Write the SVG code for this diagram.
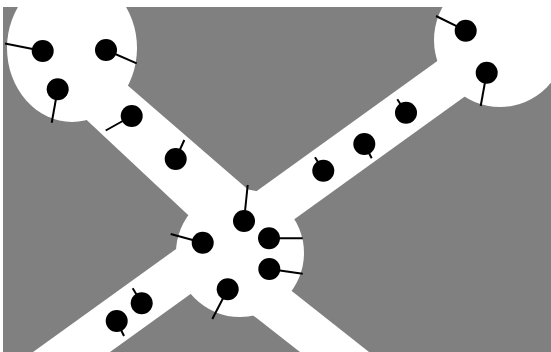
<svg xmlns="http://www.w3.org/2000/svg" width="551" height="352" viewBox="0 0 551 352">
<style>
.ground{fill:#808080}
.area{fill:#ffffff}
.body{fill:#000000}
.head{stroke:#000000;stroke-width:2;stroke-linecap:butt}
</style>
<rect x="0" y="0" width="551" height="352" fill="#ffffff"/>
<rect class="ground" x="3" y="7" width="548" height="345"/>
<g id="free-space">
<ellipse class="area" cx="72" cy="48" rx="65" ry="74"/>
<ellipse class="area" cx="500" cy="40" rx="66" ry="67"/>
<circle class="area" cx="240" cy="253" r="64"/>
<polygon class="area" points="100,61.4 250,191.3 210,235.4 60,94.9"/>
<polygon class="area" points="0,375.8 470,37.4 470,92.8 80,373.6"/>
<polygon class="area" points="280,281.7 380,360.7 320,367.6 240,305.2"/>
</g>
<g id="agents">
<g id="agent-1"><line class="head" x1="42.7" y1="51" x2="5" y2="43.5"/><circle class="body" cx="42.7" cy="51" r="11"/></g>
<g id="agent-2"><line class="head" x1="106" y1="50" x2="136.7" y2="63.3"/><circle class="body" cx="106" cy="50" r="11"/></g>
<g id="agent-3"><line class="head" x1="57.7" y1="89.3" x2="51.7" y2="122.7"/><circle class="body" cx="57.7" cy="89.3" r="11"/></g>
<g id="agent-4"><line class="head" x1="131.7" y1="116" x2="105.7" y2="130.5"/><circle class="body" cx="131.7" cy="116" r="11"/></g>
<g id="agent-5"><line class="head" x1="175.7" y1="159" x2="184.3" y2="140"/><circle class="body" cx="175.7" cy="159" r="11"/></g>
<g id="agent-6"><line class="head" x1="244" y1="221" x2="247.7" y2="185"/><circle class="body" cx="244" cy="221" r="11"/></g>
<g id="agent-7"><line class="head" x1="202.7" y1="242.7" x2="170.7" y2="234"/><circle class="body" cx="202.7" cy="242.7" r="11"/></g>
<g id="agent-8"><line class="head" x1="269" y1="238.3" x2="302.7" y2="238.3"/><circle class="body" cx="269" cy="238.3" r="11"/></g>
<g id="agent-9"><line class="head" x1="269.3" y1="269" x2="302.7" y2="273.7"/><circle class="body" cx="269.3" cy="269" r="11"/></g>
<g id="agent-10"><line class="head" x1="227.7" y1="289.3" x2="212.3" y2="319"/><circle class="body" cx="227.7" cy="289.3" r="11"/></g>
<g id="agent-11"><line class="head" x1="141.7" y1="303.3" x2="132.7" y2="288.3"/><circle class="body" cx="141.7" cy="303.3" r="11"/></g>
<g id="agent-12"><line class="head" x1="116.7" y1="321" x2="124" y2="336"/><circle class="body" cx="116.7" cy="321" r="11"/></g>
<g id="agent-13"><line class="head" x1="323.3" y1="170.7" x2="315" y2="157.3"/><circle class="body" cx="323.3" cy="170.7" r="11"/></g>
<g id="agent-14"><line class="head" x1="364.3" y1="144" x2="371.7" y2="158.3"/><circle class="body" cx="364.3" cy="144" r="11"/></g>
<g id="agent-15"><line class="head" x1="406" y1="112.7" x2="397.3" y2="99.3"/><circle class="body" cx="406" cy="112.7" r="11"/></g>
<g id="agent-16"><line class="head" x1="465.7" y1="30.7" x2="436" y2="16"/><circle class="body" cx="465.7" cy="30.7" r="11"/></g>
<g id="agent-17"><line class="head" x1="486.7" y1="72.7" x2="480.7" y2="106"/><circle class="body" cx="486.7" cy="72.7" r="11"/></g>
</g>
</svg>
